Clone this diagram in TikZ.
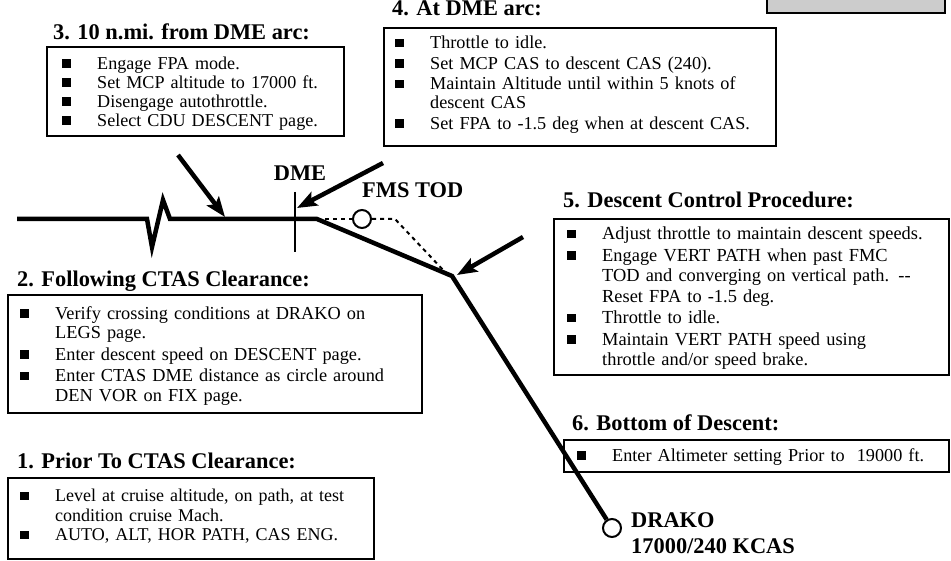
\documentclass[tikz,border=0pt]{standalone}
\usepackage{fontspec}
\setmainfont{Liberation Serif}
\usetikzlibrary{arrows.meta}

% square bullet item with hanging indent
\newcommand\bsq{\rule[1.5pt]{8.5pt}{8.5pt}}
\newcommand\itm[1]{\par\hangindent=35pt\hangafter=1\noindent\makebox[35pt][l]{\bsq}#1\par}
% fixed height for the first line, so each list starts at a known baseline
\newcommand\firstline{\rule{0pt}{14pt}}

\tikzset{
  frame/.style={draw, line width=2pt, anchor=north west, inner sep=0pt},
  listtext/.style={anchor=north west, inner sep=0pt, align=left},
  bodytext/.style n args={3}{font={\fontsize{#1}{#2}\selectfont\setlength{\parskip}{#3}}},
  headtext/.style={anchor=base west, inner sep=0pt, font=\fontsize{22.4}{26}\selectfont\bfseries},
  marktext/.style={inner sep=0pt, font=\fontsize{22.4}{26}\selectfont\bfseries},
  mainline/.style={line width=4.5pt, line join=miter},
  dashline/.style={line width=2pt, dash pattern=on 4pt off 4pt},
  pointer/.style={line width=4.5pt, -{Stealth[length=20pt,width=15pt,inset=4pt]}},
  fix/.style={circle, draw, line width=2pt, minimum size=18pt, inner sep=0pt, fill=white},
}

\begin{document}
\begin{tikzpicture}[x=1pt, y=-1pt]
\fill[white] (0,0) rectangle (951,561);
\useasboundingbox (0,0) rectangle (951,561);

% grey panel at the top right
\node[frame, fill=black!20, minimum width=178pt, minimum height=30pt] (panel) at (766,-18) {};

% ---- step 3
\node[headtext] (t3) at (53,40) {3. 10 n.mi. from DME arc:};
\node[frame, minimum width=297pt, minimum height=89pt] (b3) at (46,46) {};
\node[listtext, bodytext={18.1}{19pt}{0pt}, text width=272pt] (l3) at (62,50) {%
  \itm{\firstline Engage FPA mode.}
  \itm{Set MCP altitude to 17000 ft.}
  \itm{Disengage autothrottle.}
  \itm{Select CDU DESCENT page.}};

% ---- step 4
\node[headtext] (t4) at (392,16) {4. At DME arc:};
\node[frame, minimum width=392pt, minimum height=118pt] (b4) at (383,27) {};
\node[listtext, bodytext={18.2}{19pt}{1.5pt}, text width=372pt] (l4) at (395,28) {%
  \itm{\firstline Throttle to idle.}
  \itm{Set MCP CAS to descent CAS (240).}
  \itm{Maintain Altitude until within 5 knots of\newline descent CAS}
  \itm{Set FPA to -1.5 deg when at descent CAS.}};

% ---- step 5
\node[headtext] (t5) at (563,208) {5. Descent Control Procedure:};
\node[frame, minimum width=395pt, minimum height=156pt] (b5) at (553,218) {};
\node[listtext, bodytext={18.4}{20.5pt}{1pt}, text width=375pt] (l5) at (567,218) {%
  \itm{\firstline Adjust throttle to maintain descent speeds.}
  \itm{Engage VERT PATH when past FMC\newline TOD and converging on vertical path. {-}{-}\newline Reset FPA to -1.5 deg.}
  \itm{Throttle to idle.}
  \itm{Maintain VERT PATH speed using\newline throttle and/or speed brake.}};

% ---- step 6
\node[headtext] (t6) at (572,430) {6. Bottom of Descent:};
\node[frame, minimum width=385pt, minimum height=32pt] (b6) at (563,439) {};
\node[listtext, bodytext={18.2}{19pt}{0pt}, text width=365pt] (l6) at (577,442) {%
  \itm{\firstline Enter Altimeter setting Prior to~ 19000 ft.}};

% ---- step 2
\node[headtext] (t2) at (17,287) {2. Following CTAS Clearance:};
\node[frame, minimum width=414pt, minimum height=118pt] (b2) at (7,294) {};
\node[listtext, bodytext={18.3}{19.5pt}{2pt}, text width=395pt] (l2) at (20,297.5) {%
  \itm{\firstline Verify crossing conditions at DRAKO on\newline LEGS page.}
  \itm{Enter descent speed on DESCENT page.}
  \itm{Enter CTAS DME distance as circle around\newline DEN VOR on FIX page.}};

% ---- step 1
\node[headtext] (t1) at (17,468) {1. Prior To CTAS Clearance:};
\node[frame, minimum width=366pt, minimum height=81pt] (b1) at (7,477) {};
\node[listtext, bodytext={18}{19.5pt}{0pt}, text width=347pt] (l1) at (20,482) {%
  \itm{\firstline Level at cruise altitude, on path, at test\newline condition cruise Mach.}
  \itm{AUTO, ALT, HOR PATH, CAS ENG.}};

% ---- profile
\coordinate (p0) at (17,219);
\coordinate (z1) at (147,219);
\coordinate (z2) at (152,247);
\coordinate (z3) at (163,200);
\coordinate (z4) at (170,219);
\coordinate (tod0) at (317,219);
\coordinate (kink) at (452,276);
\coordinate (d1) at (395,219);
\coordinate (d2) at (445,272);
\coordinate (dmetop) at (295,192);
\coordinate (dmebot) at (295,252);

\node[fix] (tod) at (362,219) {};
\node[fix] (drako) at (612,528) {};

\draw[dashline] (tod0) -- (tod);
\draw[dashline] (tod) -- (d1) -- (d2);
\draw[mainline] (p0) -- (z1) -- (z2) -- (z3) -- (z4) -- (tod0) -- (kink) -- (drako);
\draw[line width=2pt] (dmetop) -- (dmebot);

\node[marktext, anchor=base] (dme) at (300,181) {DME};
\node[marktext, anchor=base west] (todl) at (362,198) {FMS TOD};
\node[marktext, anchor=base west] (drk1) at (631,527) {DRAKO};
\node[marktext, anchor=base west] (drk2) at (631,553) {17000/240 KCAS};

% ---- pointers
\coordinate (a3s) at (178,155);
\coordinate (a3e) at (225,217);
\coordinate (a4s) at (383,163);
\coordinate (a4e) at (297,208);
\coordinate (a5s) at (523,237);
\coordinate (a5e) at (457,275);
\draw[pointer] (a3s) -- (a3e);
\draw[pointer] (a4s) -- (a4e);
\draw[pointer] (a5s) -- (a5e);
\end{tikzpicture}
\end{document}
